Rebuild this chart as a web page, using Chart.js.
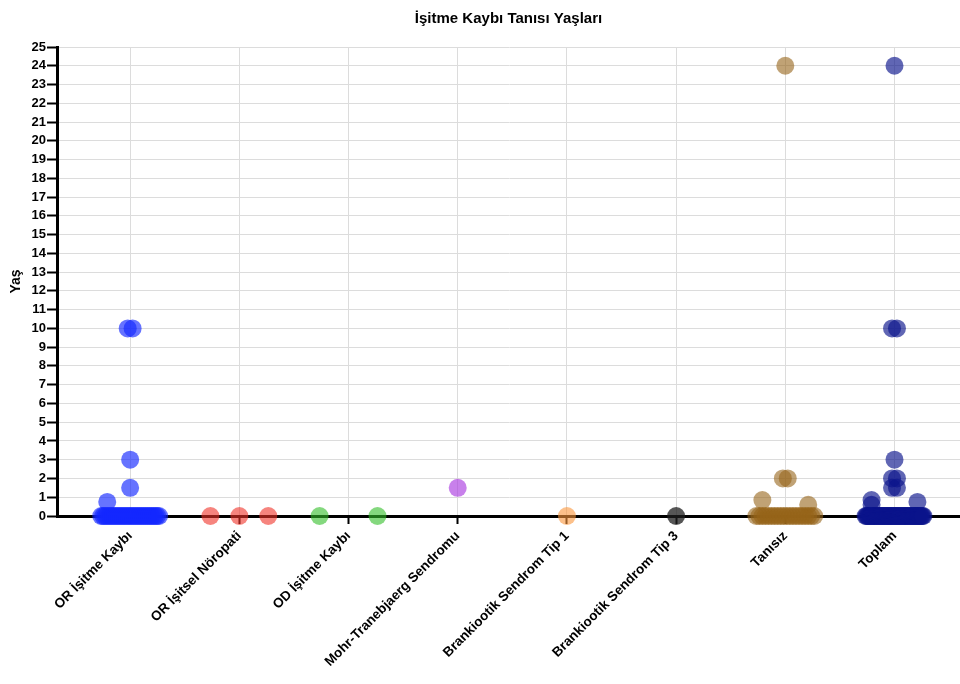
<!DOCTYPE html>
<html lang="tr">
<head>
<meta charset="utf-8">
<title>İşitme Kaybı Tanısı Yaşları</title>
<script src="https://cdn.jsdelivr.net/npm/chart.js@4/dist/chart.umd.min.js"></script>
<style>
  html, body { margin: 0; padding: 0; background: #fff; }
  canvas { display: block; }
</style>
</head>
<body>
<canvas id="chart" width="960" height="684"></canvas>
<script>
// Groups along the x axis
const categories = [
  'OR İşitme Kaybı',
  'OR İşitsel Nöropati',
  'OD İşitme Kaybı',
  'Mohr-Tranebjaerg Sendromu',
  'Brankiootik Sendrom Tip 1',
  'Brankiootik Sendrom Tip 3',
  'Tanısız',
  'Toplam'
];

// Age at diagnosis (years) for every patient in each group
const orIsitmeKaybi = [10, 10, 3, 1.5, 0.75,
  0, 0, 0, 0, 0, 0, 0, 0, 0, 0, 0, 0, 0, 0, 0,
  0, 0, 0, 0, 0, 0, 0, 0, 0, 0, 0, 0, 0, 0, 0];
const orIsitselNoropati = [0, 0, 0];
const odIsitmeKaybi = [0, 0];
const mohrTranebjaerg = [1.5];
const brankiootikTip1 = [0];
const brankiootikTip3 = [0];
const tanisiz = [24, 2, 2, 0.85, 0.6,
  0, 0, 0, 0, 0, 0, 0, 0, 0, 0, 0, 0, 0, 0, 0, 0, 0, 0, 0, 0];
const toplam = [24, 10, 10, 3, 2, 2, 1.5, 1.5, 0.85, 0.75, 0.6,
  0, 0, 0, 0, 0, 0, 0, 0, 0, 0, 0, 0, 0, 0, 0, 0, 0, 0, 0,
  0, 0, 0, 0, 0, 0, 0, 0, 0, 0, 0, 0, 0, 0, 0, 0, 0, 0, 0,
  0, 0, 0, 0, 0, 0, 0, 0, 0, 0, 0, 0, 0, 0, 0, 0, 0, 0, 0];

// Y axis range and step
const yTicks = { min: 0, max: 25, step: 1 };

const seriesValues = [
  orIsitmeKaybi, orIsitselNoropati, odIsitmeKaybi, mohrTranebjaerg,
  brankiootikTip1, brankiootikTip3, tanisiz, toplam
];
const seriesColors = [
  'rgba(20, 40, 255, 0.65)',
  'rgba(240, 50, 40, 0.6)',
  'rgba(50, 190, 40, 0.6)',
  'rgba(170, 60, 225, 0.65)',
  'rgba(250, 150, 60, 0.6)',
  'rgba(30, 30, 30, 0.75)',
  'rgba(150, 100, 25, 0.6)',
  'rgba(10, 20, 140, 0.65)'
];

// Dot-plot layout inside a column (x in category units):
// the zero row is spread across the column, equal values are nudged apart
// slightly, and values just above zero move to alternating sides.
const ROW_WIDTH = 0.53;
const NUDGE = 0.045;
const SIDE = 0.21;

function columnPoints(values, center) {
  const pts = [];
  const zeros = values.filter(v => v === 0);
  const others = values.filter(v => v !== 0);

  const counts = {};
  others.forEach(v => { counts[v] = (counts[v] || 0) + 1; });
  const seen = {};
  let side = -1;
  others.forEach(v => {
    const k = counts[v];
    const j = seen[v] || 0;
    seen[v] = j + 1;
    let dx = (j - (k - 1) / 2) * NUDGE;
    if (v < 1) { dx = side * SIDE; side = -side; }
    pts.push({ x: center + dx, y: v });
  });

  const n = zeros.length;
  zeros.forEach((v, i) => {
    const dx = n === 1 ? 0 : -ROW_WIDTH / 2 + i * ROW_WIDTH / (n - 1);
    pts.push({ x: center + dx, y: v });
  });
  return pts;
}

const datasets = categories.map((name, i) => ({
  label: name,
  data: columnPoints(seriesValues[i], i + 1),
  backgroundColor: seriesColors[i],
  borderWidth: 0,
  pointRadius: 9,
  pointHoverRadius: 9,
  clip: false
}));

const FONT = "'Liberation Sans', Arial, Helvetica, sans-serif";

new Chart(document.getElementById('chart'), {
  type: 'scatter',
  data: { datasets },
  options: {
    responsive: false,
    devicePixelRatio: 1,
    animation: false,
    layout: { autoPadding: false, padding: { left: 0, right: 0, top: 0, bottom: 0 } },
    plugins: {
      legend: { display: false },
      tooltip: { enabled: false },
      title: {
        display: true,
        text: 'İşitme Kaybı Tanısı Yaşları',
        fullSize: false,
        color: '#000',
        font: { family: FONT, size: 15, weight: 'bold' },
        padding: { top: 10, bottom: 19 }
      }
    },
    scales: {
      x: {
        type: 'linear',
        min: 0.33,
        max: 8.6,
        afterBuildTicks: scale => {
          scale.ticks = categories.map((_, i) => ({ value: i + 1 }));
        },
        afterFit: scale => {
          scale.height = 168;
          scale.paddingLeft = 0;
          scale.paddingRight = 0;
        },
        ticks: {
          autoSkip: false,
          minRotation: 45,
          maxRotation: 45,
          padding: 4,
          color: '#000',
          font: { family: FONT, size: 13.5, weight: 'bold' },
          callback: value => categories[value - 1]
        },
        grid: {
          color: '#dcdcdc',
          lineWidth: 1,
          tickColor: '#000',
          tickLength: 8,
          tickWidth: 2
        },
        border: { color: '#000', width: 3 }
      },
      y: {
        min: yTicks.min,
        max: yTicks.max,
        afterFit: scale => { scale.width = 57; },
        ticks: {
          stepSize: yTicks.step,
          padding: 1,
          color: '#000',
          font: { family: FONT, size: 13, weight: 'bold' }
        },
        grid: {
          color: '#dcdcdc',
          lineWidth: 1,
          tickColor: '#000',
          tickLength: 10,
          tickWidth: 2
        },
        border: { color: '#000', width: 3 },
        title: {
          display: true,
          text: 'Yaş',
          color: '#000',
          padding: { top: 8, bottom: 0 },
          font: { family: FONT, size: 14, weight: 'bold' }
        }
      }
    }
  }
});
</script>
</body>
</html>
